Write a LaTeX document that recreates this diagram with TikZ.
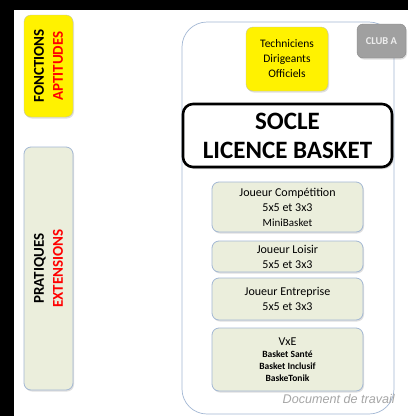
\documentclass[tikz,border=0pt]{standalone}
\usepackage{fontspec}
\setmainfont{Carlito}
\newfontfamily\docfont{Liberation Sans}
\usetikzlibrary{shadows}
\definecolor{pratfill}{HTML}{EBEEDC}
\definecolor{pratline}{HTML}{A3B8D4}
\definecolor{fonctline}{HTML}{C4C4A0}
\definecolor{clubfill}{HTML}{A0A0A0}
\definecolor{clubline}{HTML}{888888}
\definecolor{doctext}{HTML}{A6A6A6}
\tikzset{
  fonctbox/.style={draw=fonctline, fill=yellow, rounded corners=7pt, inner sep=0pt},
  pratbox/.style={draw=pratline, fill=pratfill, rounded corners=7pt, inner sep=0pt, line width=0.8pt},
  softshadow/.style={drop shadow={opacity=0.25, shadow xshift=1pt, shadow yshift=-1.5pt}},
  sidetext/.style={font=\fontsize{15}{19}\selectfont\bfseries, align=center},
}
\begin{document}
\begin{tikzpicture}[x=1pt,y=-1pt]
\useasboundingbox (0,0) rectangle (408,416);
\fill[white] (0,0) rectangle (408,416);
% Drawing frame
\fill[black] (0,0) rectangle (408,10);
\fill[black] (0,0) rectangle (14,416);
% Drawing side boxes
\node[fonctbox, softshadow, rotate=90, minimum width=102, minimum height=49, sidetext] (fonct) at (48.5,66) {FONCTIONS\\\textcolor{red}{APTITUDES}};
\node[pratbox, softshadow, rotate=90, minimum width=243, minimum height=49, sidetext] (prat) at (48.5,268.5) {PRATIQUES\\\textcolor{red}{EXTENSIONS}};
% Drawing club
\node[draw=pratline, rounded corners=25pt, line width=0.7pt, minimum width=212, minimum height=392, inner sep=0pt] (club) at (288,218) {};
\node[draw=clubline, fill=clubfill, rounded corners=6pt, minimum width=49, minimum height=34, inner sep=0pt, softshadow, text=white!93!black, font=\bfseries\fontsize{10.5}{12}\selectfont] (cluba) at (381.5,41) {CLUB A};
\node[fonctbox, softshadow, minimum width=82, minimum height=64, align=center, font=\fontsize{11.5}{15}\selectfont] (staff) at (287,59) {Techniciens\\Dirigeants\\Officiels};
% Drawing socle
\node[draw=black, fill=white, line width=2.6pt, rounded corners=10pt, minimum width=209, minimum height=63, inner sep=0pt, align=center, drop shadow={opacity=0.35, shadow xshift=1.5pt, shadow yshift=-2pt}, font=\fontsize{25}{29}\selectfont\bfseries] (socle) at (287.5,135.5) {SOCLE\\LICENCE BASKET};
% Drawing practices
\node[pratbox, softshadow, minimum width=151, minimum height=50, align=center, font=\fontsize{12}{15}\selectfont] (compet) at (287.5,207) {Joueur Compétition\\5x5 et 3x3\\{\fontsize{11}{15}\selectfont MiniBasket}};
\node[pratbox, softshadow, minimum width=151, minimum height=31, align=center, font=\fontsize{12}{15}\selectfont] (loisir) at (287.5,256.5) {Joueur Loisir\\5x5 et 3x3};
\node[pratbox, softshadow, minimum width=151, minimum height=42, align=center, font=\fontsize{12}{15}\selectfont] (entreprise) at (287.5,299) {Joueur Entreprise\\5x5 et 3x3};
\node[pratbox, softshadow, minimum width=151, minimum height=63, align=center, font=\fontsize{9.5}{12}\selectfont\bfseries] (vxe) at (287.5,359.5) {{\fontsize{12}{13}\mdseries\selectfont VxE}\\Basket Santé\\Basket Inclusif\\BaskeTonik};
% Done with boxes; drawing comment
\node[anchor=base east, inner sep=0pt, text=doctext, font=\docfont\itshape\fontsize{12.6}{14}\selectfont] (doc) at (395,403) {Document de travail};
\end{tikzpicture}
\end{document}
